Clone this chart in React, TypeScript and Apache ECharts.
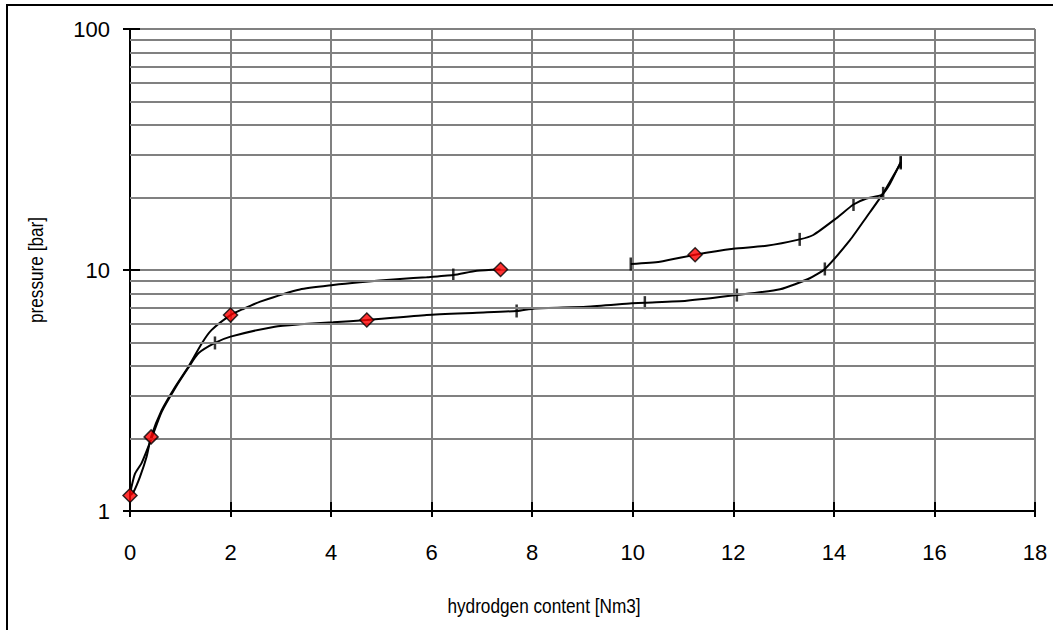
import React, { useEffect, useRef } from "react";
import * as echarts from "echarts";

const yMinorGrid = [2, 3, 4, 5, 6, 7, 8, 9, 20, 30, 40, 50, 60, 70, 80, 90];

const curveAX = [0, 0.07, 0.2, 0.33, 0.42, 0.63, 0.9, 1.16, 1.43, 1.62, 2.0, 2.25, 2.59, 3.38, 4.04, 4.57, 5.37, 5.9, 6.43, 6.9, 7.37];
const curveAY = [1.16, 1.2, 1.39, 1.68, 2.03, 2.62, 3.28, 3.97, 4.97, 5.63, 6.5, 6.89, 7.39, 8.3, 8.66, 8.89, 9.18, 9.33, 9.53, 9.93, 10.05];

const curveBX = [0, 0.03, 0.1, 0.23, 0.42, 0.63, 0.9, 1.16, 1.36, 1.69, 2.0, 2.88, 3.38, 4.04, 4.71, 5.9, 6.9, 7.69, 8.05, 9.08, 9.98, 10.24, 11.07, 12.07, 12.93, 13.52, 13.82, 14.32, 14.65, 14.98, 15.25, 15.33];
const curveBY = [1.16, 1.26, 1.43, 1.58, 1.98, 2.58, 3.24, 3.93, 4.51, 4.98, 5.29, 5.82, 5.95, 6.07, 6.2, 6.51, 6.65, 6.76, 6.93, 7.04, 7.27, 7.32, 7.46, 7.87, 8.32, 9.24, 10.1, 13.3, 16.6, 20.8, 26.0, 27.8];

const curveCX = [9.96, 10.54, 11.24, 12.0, 12.66, 13.32, 13.59, 14.05, 14.39, 14.65, 14.95, 15.1, 15.33];
const curveCY = [10.59, 10.82, 11.57, 12.25, 12.6, 13.4, 13.97, 16.4, 18.7, 19.8, 20.5, 22.5, 28.1];

const diamondX = [0, 0.42, 2.0, 4.71, 7.37, 11.24];
const diamondY = [1.16, 2.03, 6.5, 6.2, 10.05, 11.57];

const dashX = [1.69, 6.43, 7.69, 10.24, 12.07, 13.82, 14.98, 15.33, 9.96, 13.32, 14.39, 15.33];
const dashY = [4.98, 9.53, 6.76, 7.32, 7.87, 10.1, 20.8, 27.8, 10.59, 13.4, 18.7, 28.1];

const zip = (xs: number[], ys: number[]) => xs.map((x, i) => [x, ys[i]]);

const FONT = '"Liberation Sans", Arial, sans-serif';
const FS = 22;
const TITLE_FS = 21;
const TITLE_SCALE = 0.82;

export default function App() {
  const ref = useRef<HTMLDivElement>(null);
  useEffect(() => {
    if (!ref.current) return;
    const chart = echarts.init(ref.current, null, { renderer: "svg" });
    const lineStyle = { color: "#000", width: 2 };
    chart.setOption({
      animation: false,
      backgroundColor: "#fff",
      grid: { left: 130, top: 29, right: 18, bottom: 119 },
      xAxis: [
        {
          type: "value",
          min: 0,
          max: 18,
          interval: 2,
          axisLine: { show: true, onZero: false, lineStyle: { color: "#000", width: 2 } },
          axisTick: { show: true, length: 6, lineStyle: { color: "#000", width: 2 } },
          axisLabel: { color: "#000", fontSize: FS, fontFamily: FONT, margin: 30 },
          splitLine: { show: true, lineStyle: { color: "#808080", width: 2 } },
        },
        {
          type: "value",
          position: "bottom",
          min: 0,
          max: 18,
          interval: 2,
          axisLine: { show: false },
          axisTick: { show: true, inside: true, length: 9, lineStyle: { color: "#000", width: 2 } },
          axisLabel: { show: false },
          splitLine: { show: false },
        },
      ],
      yAxis: [
        {
          type: "log",
          logBase: 10,
          min: 1,
          max: 100,
          axisLine: { show: true, onZero: false, lineStyle: { color: "#000", width: 2 } },
          axisTick: { show: true, length: 7, lineStyle: { color: "#000", width: 2 } },
          axisLabel: { color: "#000", fontSize: FS, fontFamily: FONT, margin: 20 },
          splitLine: { show: true, lineStyle: { color: "#808080", width: 2 } },
        },
        {
          type: "log",
          logBase: 10,
          min: 1,
          max: 100,
          position: "left",
          axisLine: { show: false },
          axisTick: { show: true, inside: true, length: 10, lineStyle: { color: "#000", width: 2 } },
          axisLabel: { show: false },
          splitLine: { show: false },
        },
      ],
      graphic: [
        {
          type: "rect",
          shape: { x: 7, y: 5, width: 1100, height: 700 },
          style: { fill: "none", stroke: "#000", lineWidth: 2 },
          silent: true,
        },
        {
          type: "text",
          x: 36,
          y: 270,
          rotation: Math.PI / 2,
          scaleX: TITLE_SCALE,
          style: {
            text: "pressure [bar]",
            fill: "#000",
            font: `${TITLE_FS}px ${FONT}`,
            textAlign: "center",
            textVerticalAlign: "middle",
          },
        },
        {
          type: "text",
          x: 544,
          y: 606,
          scaleX: TITLE_SCALE,
          style: {
            text: "hydrodgen content [Nm3]",
            fill: "#000",
            font: `${TITLE_FS}px ${FONT}`,
            textAlign: "center",
            textVerticalAlign: "middle",
          },
        },
      ],
      series: [
        {
          type: "line",
          data: [],
          silent: true,
          markLine: {
            silent: true,
            symbol: "none",
            label: { show: false },
            lineStyle: { color: "#808080", width: 2, type: "solid" },
            data: yMinorGrid.map((v) => ({ yAxis: v })),
          },
          z: 1,
        },
        { type: "line", data: zip(curveAX, curveAY), showSymbol: false, symbol: "none", lineStyle, smooth: 0.2, z: 3 },
        { type: "line", data: zip(curveBX, curveBY), showSymbol: false, symbol: "none", lineStyle, smooth: 0.2, z: 3 },
        { type: "line", data: zip(curveCX, curveCY), showSymbol: false, symbol: "none", lineStyle, smooth: 0.2, z: 3 },
        {
          type: "scatter",
          data: zip(dashX, dashY),
          symbol: "rect",
          symbolSize: [2.5, 13],
          itemStyle: { color: "#000" },
          z: 4,
        },
        {
          type: "scatter",
          data: zip(diamondX, diamondY),
          symbol: "diamond",
          symbolSize: 14,
          itemStyle: { color: "#ff0000", borderColor: "#000", borderWidth: 1.5 },
          z: 5,
        },
      ],
    });
    return () => chart.dispose();
  }, []);
  return <div ref={ref} style={{ width: 1053, height: 630, position: "absolute", left: 0, top: 0 }} />;
}
